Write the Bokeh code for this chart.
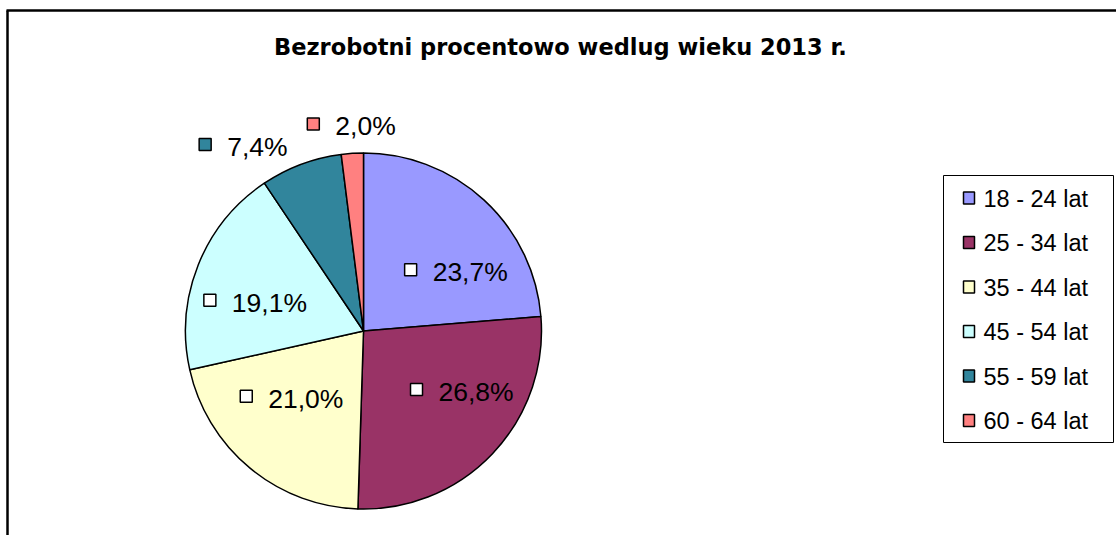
import math
import numpy as np
from bokeh.plotting import figure
from bokeh.models import Range1d, ColumnDataSource
from bokeh.core.properties import value
from bokeh.embed import file_html
from bokeh.resources import INLINE

# ---- data ----
title = "Bezrobotni procentowo wedlug wieku 2013 r."
categories = ["18 - 24 lat", "25 - 34 lat", "35 - 44 lat", "45 - 54 lat", "55 - 59 lat", "60 - 64 lat"]
percent = [23.7, 26.8, 21.0, 19.1, 7.4, 2.0]
labels = ["23,7%", "26,8%", "21,0%", "19,1%", "7,4%", "2,0%"]
colors = ["#9999FF", "#993366", "#FFFFCC", "#CCFFFF", "#31859C", "#FF8080"]

W, H = 1116, 535
FONT = "Liberation Sans"

p = figure(width=W, height=H, output_backend="svg", toolbar_location=None,
           x_range=Range1d(0, W), y_range=Range1d(0, H), min_border=0)
p.axis.visible = False
p.grid.visible = False
p.outline_line_color = None
p.background_fill_color = "white"
p.border_fill_color = "white"

# frame (top and left edges visible)
p.segment(x0=[7, 6], y0=[0, 525], x1=[7, W], y1=[525, 525], line_color="black", line_width=2.5)

# title
p.text(x=[560], y=[489], text=[title], text_font=value("DejaVu Sans"), text_font_style="bold",
       text_font_size="22.5px", text_align="center", text_baseline="alphabetic", text_color="black")

# ---- pie ----
cx, cy, R = 363.0, 204.5, 178.0
vals = np.array(percent, dtype=float)
fr = vals / vals.sum()
cum_end = np.cumsum(fr)
cum_start = cum_end - fr
start_ang = math.pi / 2 - 2 * math.pi * cum_start
end_ang = math.pi / 2 - 2 * math.pi * cum_end
src = ColumnDataSource(dict(x=[cx] * len(vals), y=[cy] * len(vals), s=start_ang, e=end_ang, c=colors))
p.wedge(x="x", y="y", radius=R, start_angle="s", end_angle="e", direction="clock",
        fill_color="c", line_color="black", line_width=1.5, source=src)

# ---- data labels ----
LFS = 26.5
em = {"0": .556, "1": .556, "2": .556, "3": .556, "4": .556, "5": .556, "6": .556, "7": .556,
      "8": .556, "9": .556, ",": .278, "%": .889, " ": .278}
def tw(s, fs):
    return sum(em.get(ch, .556) for ch in s) * fs

KEY = 12
GAP = 28  # key-left to text-left
sq_x, sq_y, sq_c, tx_x, tx_y = [], [], [], [], []
for i, lab in enumerate(labels):
    mid = 2 * math.pi * (cum_start[i] + fr[i] / 2)
    sn, cs = math.sin(mid), math.cos(mid)
    gw = GAP + tw(lab, LFS)
    if fr[i] >= 0.1:
        gx, gy = cx + 8 + 125 * sn, cy - 3 + 84 * cs
        kc = "white"
    else:
        px, py = cx + (R + 13) * sn, cy + (R + 13) * cs
        side = abs(sn) > 0.2
        sx = (1 if sn > 0 else -1) if side else 0
        sy = 1 if cs > 0 else -1
        gx = px + sx * (gw / 2 + 9)
        gy = py + sy * (5 if side else 14)
        kc = colors[i]
    left = gx - gw / 2
    sq_x.append(left + KEY / 2)
    sq_y.append(gy + 2.5)
    sq_c.append(kc)
    tx_x.append(left + GAP)
    tx_y.append(gy)

p.rect(x=sq_x, y=sq_y, width=KEY, height=KEY, fill_color=sq_c, line_color="black", line_width=1.5)
p.text(x=tx_x, y=tx_y, text=labels, text_font=value(FONT), text_font_size=f"{LFS}px",
       text_align="left", text_baseline="middle", text_color="black")

# ---- legend ----
lx0, lx1, ly0, ly1 = 943, 1113, 93, 360   # box edges (data units = px)
p.quad(left=[lx0], right=[lx1], bottom=[ly0], top=[ly1], fill_color="white",
       line_color="black", line_width=1)
n = len(categories)
row_y = [ly1 - 22.5 - 44.5 * i for i in range(n)]
p.rect(x=[lx0 + 25.5] * n, y=row_y, width=11, height=12, fill_color=colors,
       line_color="black", line_width=1.5)
p.text(x=[lx0 + 40] * n, y=[yy - 0.5 for yy in row_y], text=categories, text_font=value(FONT),
       text_font_size="23.5px", text_align="left", text_baseline="middle", text_color="black")

open("out.html", "w").write(file_html(p, INLINE))
